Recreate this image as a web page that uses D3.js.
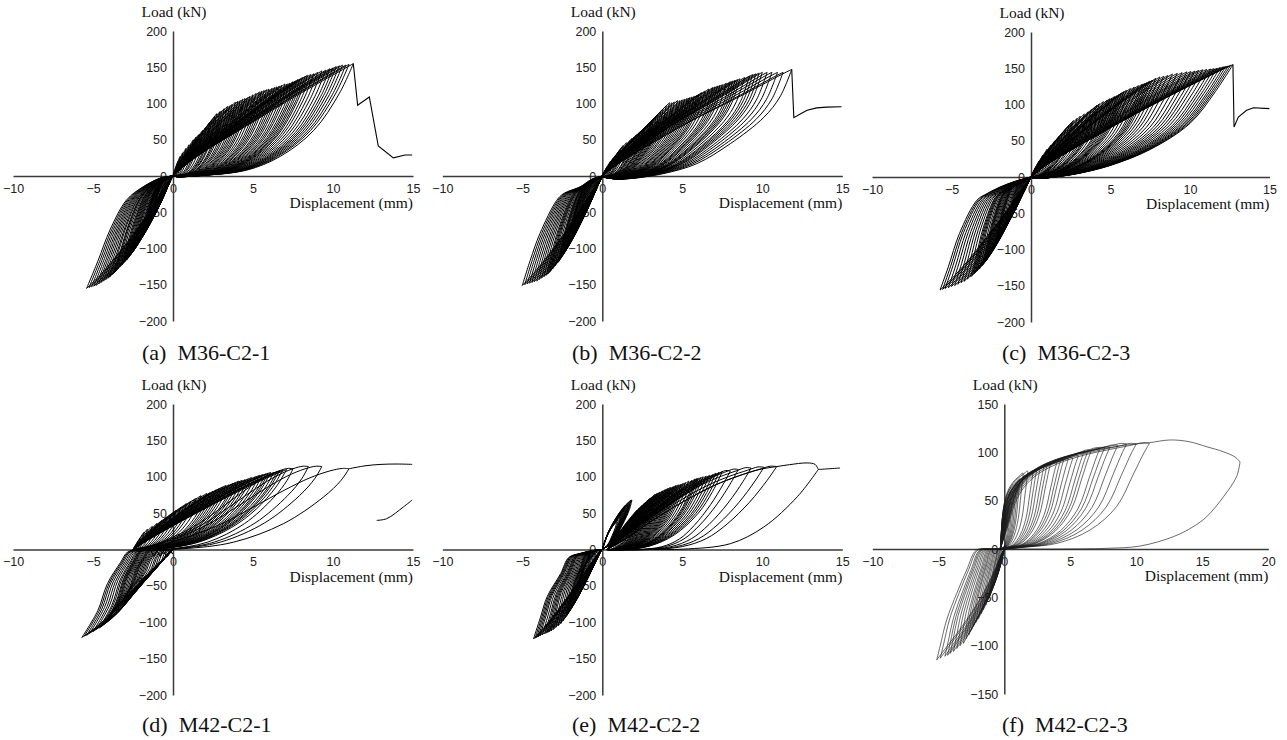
<!DOCTYPE html>
<html>
<head>
<meta charset="utf-8">
<script src="https://cdn.jsdelivr.net/npm/d3@7"></script>
<style>
  body { margin: 0; background: #fff; }
</style>
</head>
<body>
<div id="chart"></div>
<script>
// ---- data: displacement (mm), load (kN) ----
// each loop group = one traced representative loop (rising branch, return branch)
// plus the tip of every cycle of that kind

// (a) M36-C2-1
var posTipsA = [[0.3,20],[0.44,27],[0.6,32],[0.8,38],[1.0,43],[1.27,50],[1.45,54],[1.6,57],[1.85,63],[2.1,68],[2.3,74],[2.42,77],[2.6,82],[2.73,86],[2.94,89],[3.05,90],[3.2,93],[3.4,96],[3.55,97],[3.7,99],[3.9,102],[4.05,103],[4.2,104],[4.35,106],[4.5,107],[4.65,108],[4.8,110],[5.0,112],[5.2,114],[5.4,116],[5.55,117],[5.7,118],[5.85,119],[6.0,120],[6.2,121],[6.35,122],[6.5,123],[6.65,124],[6.8,125],[7.0,127],[7.15,127],[7.3,128],[7.5,130],[7.65,131],[7.8,133],[7.95,134],[8.1,136],[8.25,137],[8.4,139],[8.6,140],[8.8,141],[9.05,143],[9.3,145],[9.55,146],[9.8,148],[10.0,149],[10.2,151],[10.4,152],[10.6,153],[10.8,153],[11.0,154],[11.27,155]];
var posUpA = [[0,0],[0.5,10],[1.5,27],[3,48],[4.5,68],[6,88],[7.5,108],[9,127],[10.3,143],[11.27,155]];
var posDownA = [[11.27,155],[10.4,114],[8.8,63],[6.7,27],[4.6,8],[2,1],[0.4,-1],[0,0]];
var negTipsA = [[-0.19,-5.5],[-0.3,-8],[-0.42,-12],[-0.5,-14],[-0.58,-16],[-0.65,-18],[-0.72,-20],[-0.8,-22],[-0.9,-25],[-1.0,-28],[-1.05,-31],[-1.1,-34],[-1.15,-37],[-1.2,-40],[-1.26,-44],[-1.32,-48],[-1.38,-52],[-1.44,-56],[-1.52,-60],[-1.6,-64],[-1.7,-69],[-1.75,-71],[-1.8,-74],[-1.87,-78],[-1.93,-81],[-2.0,-85],[-2.06,-88],[-2.15,-91],[-2.25,-95],[-2.38,-99],[-2.5,-103],[-2.6,-107],[-2.7,-110],[-2.8,-113],[-2.9,-116],[-3.0,-118],[-3.1,-120],[-3.2,-123],[-3.3,-125],[-3.45,-128],[-3.6,-132],[-3.7,-134],[-3.78,-136],[-3.94,-139],[-4.05,-141],[-4.2,-143],[-4.35,-145],[-4.5,-147],[-4.65,-149],[-4.8,-151],[-4.95,-152],[-5.1,-153],[-5.25,-154],[-5.4,-155]];
var negOutA = [[0,0],[-0.8,-3],[-1.86,-14.7],[-2.9,-33],[-3.94,-74.5],[-4.67,-116],[-5.4,-155]];
var negInA = [[-5.4,-155],[-4.6,-138],[-3.6,-112],[-2.6,-84],[-1.7,-56],[-0.9,-28],[-0.3,-8],[0,0]];
var tailA = [[11.27,155],[11.54,97.5],[12.27,109],[12.83,41.4],[13.77,25],[14.5,29],[14.95,29]];

// (b) M36-C2-2
var posTipsB = [[0.3,13],[0.5,20],[0.65,24],[0.8,28],[1.0,33],[1.15,38],[1.3,42],[1.5,46],[1.73,49],[1.85,52],[2.0,54],[2.1,56],[2.2,58],[2.35,61],[2.5,63],[2.6,66],[2.7,68],[2.85,71],[3.0,74],[3.1,76],[3.2,78],[3.35,81],[3.5,84],[3.65,88],[3.8,92],[4.0,97],[4.2,101],[4.35,101],[4.5,102],[4.7,104],[4.85,104],[5.0,105],[5.15,106],[5.3,107],[5.45,108],[5.6,109],[5.75,110],[5.9,111],[6.05,113],[6.2,115],[6.4,117],[6.65,120],[6.9,122],[7.05,123],[7.2,124],[7.35,125],[7.5,126],[7.75,128],[8.0,130],[8.15,131],[8.3,132],[8.45,133],[8.6,134],[8.9,136],[9.2,138],[9.4,140],[9.6,141],[9.8,142],[10.0,143],[10.3,143],[10.6,143],[10.95,143],[11.3,143],[11.84,147]];
var posUpB = [[0,0],[0.5,9],[1.5,24],[3,44],[4.5,63],[6,81],[8,103],[10,126],[11.2,140],[11.84,147]];
var posDownB = [[11.84,147],[11.1,109],[10.1,81],[8,44.6],[5.9,17],[3.8,3.2],[1.5,-4],[0.5,-3],[0,0]];
var negTipsB = [[-0.2,-8],[-0.3,-12],[-0.4,-17],[-0.5,-22],[-0.58,-25],[-0.65,-28],[-0.72,-30],[-0.8,-33],[-0.9,-38],[-1.0,-42],[-1.08,-45],[-1.15,-47],[-1.22,-50],[-1.3,-52],[-1.38,-56],[-1.45,-59],[-1.52,-62],[-1.6,-66],[-1.68,-70],[-1.75,-73],[-1.82,-76],[-1.9,-80],[-2.0,-86],[-2.1,-92],[-2.15,-95],[-2.2,-98],[-2.25,-100],[-2.3,-103],[-2.4,-107],[-2.5,-110],[-2.58,-113],[-2.65,-115],[-2.72,-118],[-2.8,-120],[-2.95,-124],[-3.1,-128],[-3.2,-130],[-3.3,-133],[-3.4,-135],[-3.5,-137],[-3.65,-139],[-3.8,-141],[-3.95,-143],[-4.1,-145],[-4.25,-146],[-4.4,-147],[-4.55,-148],[-4.7,-149],[-4.85,-150],[-5.0,-151]];
var negOutB = [[0,0],[-0.7,-5],[-1.39,-15],[-2.4,-24],[-2.85,-33.6],[-3.9,-79.5],[-4.5,-116],[-5.0,-151]];
var negInB = [[-5.0,-151],[-4.2,-132],[-3.3,-107],[-2.4,-80],[-1.6,-54],[-0.9,-30],[-0.3,-10],[0,0]];
var tailB = [[11.84,147],[11.97,80.5],[12.4,86],[12.8,90.6],[13.4,94],[14,95],[14.95,95.5]];

// (c) M36-C2-3
var posTipsC = [[0.3,14],[0.5,22],[0.75,30],[1.0,38],[1.25,44],[1.5,50],[1.75,56],[2.0,62],[2.2,67],[2.4,72],[2.55,75],[2.67,78],[2.9,81],[3.1,84],[3.35,87],[3.6,90],[3.8,93],[4.0,96],[4.15,99],[4.3,101],[4.55,104],[4.8,106],[4.95,108],[5.1,109],[5.25,111],[5.4,112],[5.55,114],[5.7,116],[5.85,118],[6.0,119.5],[6.25,122],[6.5,124],[6.75,126],[7.0,128],[7.15,129],[7.3,130],[7.45,132],[7.6,133],[7.85,136],[8.1,138],[8.35,139],[8.6,140],[8.9,142],[9.2,143],[9.5,144],[9.8,145],[10.05,145.5],[10.3,146],[10.55,147],[10.8,148],[11.05,148.5],[11.3,149],[11.5,149.5],[11.7,150],[11.9,151],[12.1,152],[12.25,152.5],[12.4,153],[12.55,154],[12.7,155]];
var posUpC = [[0,0],[0.5,9],[1.5,24],[3,43],[5,68],[7,92],[9,115],[11,137],[12.1,149],[12.7,155]];
var posDownC = [[12.7,155],[11.6,118],[10,74],[7.5,38],[5,16],[3,5],[1.5,0],[0.5,-2],[0,0]];
var negTipsC = [[-0.2,-8],[-0.3,-12],[-0.38,-15],[-0.45,-18],[-0.52,-21],[-0.6,-25],[-0.68,-28],[-0.75,-31],[-0.82,-34],[-0.9,-38],[-0.98,-41],[-1.05,-44],[-1.12,-47],[-1.2,-50.6],[-1.28,-53],[-1.35,-55],[-1.42,-57],[-1.5,-60],[-1.62,-65],[-1.75,-70],[-1.88,-74],[-2.0,-78],[-2.08,-82],[-2.15,-85],[-2.22,-88],[-2.3,-92],[-2.42,-98],[-2.55,-104],[-2.68,-110],[-2.8,-115],[-2.88,-117],[-2.95,-119],[-3.02,-121],[-3.1,-123],[-3.25,-127],[-3.4,-130],[-3.5,-132],[-3.6,-134],[-3.7,-136],[-3.8,-138],[-4.0,-141],[-4.2,-144],[-4.4,-146],[-4.6,-148],[-4.8,-150],[-5.0,-151],[-5.2,-153],[-5.4,-154],[-5.56,-155],[-5.72,-156]];
var negOutC = [[0,0],[-1,-6],[-1.95,-13.8],[-2.78,-23],[-3.4,-32],[-4.5,-78],[-5.2,-124],[-5.72,-156]];
var negInC = [[-5.72,-156],[-4.8,-136],[-3.8,-111],[-2.8,-83],[-1.8,-55],[-1,-30],[-0.3,-9],[0,0]];
var tailC = [[12.7,155],[12.77,69],[13.04,82.8],[13.56,92],[14,95.6],[14.99,94.3]];

// (d) M42-C2-1
var posTipsD = [[-1.8,24],[-1.6,28],[-1.3,32],[-1.0,36],[-0.7,40],[-0.4,44.7],[-0.1,49],[0.2,54],[0.5,58],[0.83,63],[1.1,66],[1.4,70],[1.75,74],[2.1,77],[2.3,78],[2.5,80],[2.7,82],[2.9,84],[3.1,86],[3.3,88],[3.5,89],[3.75,91],[3.9,92],[4.1,94],[4.3,95],[4.5,96],[4.7,97],[4.9,99],[5.15,100],[5.4,102],[5.6,103],[5.8,104],[5.95,105],[6.1,106],[6.3,106],[6.5,107],[6.65,108],[6.85,109],[7.1,110]];
var posUpD = [[-2.5,0],[-1.5,14],[0,33],[2,57],[4,80],[5.5,96],[6.85,109]];
var posDownD = [[6.85,109],[6.2,85],[5,55],[3.5,30],[1.5,10],[-0.5,2],[-2.5,0]];
var lateTipsD = [[7.5,111],[8.46,114],[9.3,114],[11.0,111]];
var lateUpD = [[-2.5,0],[-1,5],[1,18],[3,35],[5,58],[7,82],[8.5,98],[9.8,108],[10.6,111.5],[11,111]];
var lateDownD = [[11,111],[10.5,95],[9.4,72],[6.9,35.5],[3.77,10],[0.64,1],[-1,0],[-2.5,0]];
var negTipsD = [[-0.4,-10.6],[-0.6,-14],[-0.8,-18],[-1.05,-23],[-1.27,-29],[-1.45,-32],[-1.6,-35],[-1.8,-38],[-2.0,-41],[-2.15,-44],[-2.3,-47],[-2.45,-51],[-2.6,-55],[-2.75,-59],[-2.9,-63],[-3.0,-66],[-3.1,-69],[-3.2,-72],[-3.3,-75],[-3.45,-79],[-3.6,-83],[-3.75,-87],[-3.9,-92],[-4.0,-95],[-4.1,-98],[-4.2,-100],[-4.3,-103],[-4.45,-105],[-4.6,-108],[-4.8,-110],[-5.0,-113],[-5.2,-115],[-5.4,-118],[-5.55,-119],[-5.7,-121]];
var negOutD = [[0,0],[-1.5,-1],[-2.8,-3],[-3.27,-17.5],[-4.1,-47],[-4.7,-84],[-5.7,-121]];
var negInD = [[-5.7,-121],[-4.6,-103],[-3.6,-80],[-2.6,-57],[-1.6,-35],[-0.8,-17],[-0.2,-3],[0,0]];
var tailD = [[11,111],[12,115],[13,117],[14,117.5],[14.95,117]];
var segD = [[12.73,40],[13.36,42.4],[14.4,58.5],[14.95,68]];
var zigD = [[-1.4,-1],[-1.2,-9],[-1.0,-2],[-0.8,-9],[-0.6,-2],[-0.4,-9],[-0.2,-2],[0,-6]];

// (e) M42-C2-2
var posTipsE = [[1.2,25],[1.4,30],[1.6,35],[1.8,40],[2.0,48],[2.15,54],[2.3,57],[2.4,59],[2.5,61],[2.6,63],[2.7,65],[2.8,67],[2.9,69],[3.0,71],[3.1,72],[3.2,74],[3.3,76],[3.4,77],[3.5,78],[3.6,79],[3.7,80],[3.8,81],[3.9,82],[4.0,83],[4.1,84],[4.2,85],[4.3,85.5],[4.4,86],[4.5,87],[4.6,88],[4.7,88.5],[4.8,89],[4.93,90],[5.06,91],[5.2,92],[5.4,94],[5.6,95],[5.8,97],[5.9,97.5],[6.0,98],[6.15,99],[6.3,100],[6.5,101],[6.7,102],[6.9,103],[7.1,105],[7.3,106],[7.5,107]];
var posUpE = [[0.3,0],[1.2,15],[2.5,35],[4,58],[5.5,80],[6.7,96],[7.5,107]];
var posDownE = [[7.5,107],[6.9,80],[6,50],[4.5,20],[3,5],[1.5,0],[0.3,0]];
var lateTipsE = [[8.0,108],[8.5,110],[9.3,112],[10.1,113],[10.9,114]];
var lateUpE = [[0.3,0],[1.5,15],[3,38],[5,65],[7,88],[8.5,101],[9.8,110],[10.5,114.5],[10.9,114]];
var lateDownE = [[10.9,114],[10.3,95],[9.2,65],[7.8,35],[6.5,15],[5,4],[3,0],[0.3,0]];
var bigUpE = [[0.3,0],[1.5,15],[3,38],[5,65],[7,88],[8.5,101],[9.8,110],[10.9,114],[11.7,116.6],[12.8,119],[13.3,117],[13.5,110]];
var bigDownE = [[13.5,110],[12.2,72.8],[10.1,31],[8,8],[5.06,0.5],[3,0],[0.3,0]];
var tailE = [[13.5,110],[14.2,111],[14.86,112]];
var spikeTipsE = [[0.9,38],[1.0,41],[1.1,44],[1.15,46],[1.2,48],[1.25,50],[1.3,51],[1.35,53],[1.4,54],[1.45,56],[1.5,57],[1.55,59],[1.6,61],[1.65,62],[1.7,64],[1.75,66],[1.8,68],[1.85,68]];
var spikeUpE = [[0,0],[0.4,25],[0.9,45],[1.4,60],[1.8,68]];
var spikeDownE = [[1.8,68],[1.65,55],[1.25,35],[0.6,10],[0,0]];
var negTipsE = [[-0.3,-5],[-0.5,-10],[-0.65,-15],[-0.8,-20],[-0.9,-23],[-1.0,-27],[-1.1,-30],[-1.2,-33],[-1.3,-39],[-1.4,-45],[-1.45,-48],[-1.5,-52],[-1.55,-56],[-1.6,-60],[-1.7,-67],[-1.8,-74.6],[-1.9,-79],[-2.0,-83],[-2.08,-86],[-2.15,-88],[-2.22,-91],[-2.3,-93],[-2.45,-98],[-2.6,-102],[-2.75,-105],[-2.9,-107],[-3.05,-110],[-3.2,-112],[-3.3,-113],[-3.4,-114],[-3.5,-115],[-3.6,-116],[-3.75,-117.5],[-3.9,-119],[-4.0,-120],[-4.1,-121],[-4.2,-122],[-4.3,-123]];
var negOutE = [[0,0],[-0.6,-1.5],[-1.4,-5.5],[-2.1,-11],[-2.6,-33],[-3.45,-65],[-3.86,-93],[-4.3,-123]];
var negInE = [[-4.3,-123],[-3.6,-106],[-2.8,-84],[-2.0,-60],[-1.3,-38],[-0.6,-16],[-0.2,-4],[0,0]];

// (f) M42-C2-3
var posTipsF = [[0.3,30],[0.45,40],[0.6,48],[0.75,55],[0.9,62],[1.05,67],[1.2,72],[1.44,78],[1.8,80],[2.2,80],[2.45,81],[2.7,82],[3.0,85],[3.25,87],[3.5,88],[3.97,89],[4.25,91],[4.5,92],[4.85,93],[5.2,94],[5.6,96],[6.0,99],[6.3,100],[6.6,102],[7.25,104],[7.6,104.5],[8.0,105],[8.6,107],[9.27,108.6],[10.0,108.6],[11.0,109.3]];
var posUpF = [[-0.3,0],[0.3,25],[0.8,47],[1.5,64],[2.5,77],[4,88],[6,97],[8,103],[9.5,107],[10.5,110],[11,109.3]];
var posDownF = [[11,109.3],[10.6,100],[9.8,78],[8.5,43.8],[6.5,19.7],[4,5.9],[1.4,1.7],[0,0],[-0.3,0]];
var bigUpF = [[-0.3,0],[0.3,30],[0.8,55],[1.4,72],[2.5,84],[4,93],[6,100],[8,105],[9.5,108],[11,110],[12.55,112.8],[14,111],[15.33,105.8],[16.6,100.6],[17.5,95],[17.86,90]];
var bigDownF = [[17.86,90],[17.6,75],[16.6,54],[15.33,33.4],[14.3,23],[12.8,12.7],[10.3,3.1],[7.8,0.7],[4,0],[-0.3,0]];
var negTipsF = [[-0.33,-14.8],[-0.45,-21],[-0.6,-28],[-0.72,-34],[-0.83,-39],[-1.0,-45],[-1.1,-49],[-1.2,-52],[-1.4,-58],[-1.59,-63],[-1.75,-67],[-1.95,-72],[-2.15,-76],[-2.35,-80],[-2.5,-84],[-2.7,-89],[-2.9,-93],[-3.1,-97.6],[-3.35,-100],[-3.6,-103],[-3.85,-106],[-4.1,-108],[-4.3,-110],[-4.5,-111],[-4.85,-113],[-5.12,-114.8]];
var negOutF = [[0,0],[-1,-0.5],[-2.1,-1],[-2.85,-21.7],[-3.6,-45.8],[-4.36,-73],[-4.87,-101],[-5.12,-114.8]];
var negInF = [[-5.12,-114.8],[-4.3,-100],[-3.4,-84],[-2.5,-66],[-1.6,-46],[-0.8,-24],[-0.2,-5],[0,0]];

var captions = ["(a)  M36-C2-1", "(b)  M36-C2-2", "(c)  M36-C2-3", "(d)  M42-C2-1", "(e)  M42-C2-2", "(f)  M42-C2-3"];
var yTicksA = [-200, -150, -100, -50, 0, 50, 100, 150, 200];
var yTicksF = [-150, -100, -50, 0, 50, 100, 150];
var xTicksA = [-10, -5, 0, 5, 10, 15];
var xTicksF = [-10, -5, 0, 5, 10, 15, 20];

// ---- layout ----
var layout = [
  { xd: [-10, 15], xr: [13, 413],      yd: [-200, 200], yr: [321, 31],  xt: xTicksA, yt: yTicksA, cx: 142,  cy: 360 },
  { xd: [-10, 15], xr: [442.3, 842.3], yd: [-200, 200], yr: [321, 31],  xt: xTicksA, yt: yTicksA, cx: 572,  cy: 360 },
  { xd: [-10, 15], xr: [872, 1269.5],  yd: [-200, 200], yr: [322, 32],  xt: xTicksA, yt: yTicksA, cx: 1002, cy: 360 },
  { xd: [-10, 15], xr: [13, 413],      yd: [-200, 200], yr: [695, 404], xt: xTicksA, yt: yTicksA, cx: 142,  cy: 732 },
  { xd: [-10, 15], xr: [442.3, 842.3], yd: [-200, 200], yr: [695, 404], xt: xTicksA, yt: yTicksA, cx: 572,  cy: 732 },
  { xd: [-10, 20], xr: [872.3, 1268.3],yd: [-150, 150], yr: [694, 404], xt: xTicksF, yt: yTicksF, cx: 1002, cy: 732 }
];

var panels = [
  { groups: [{ up: posUpA, down: posDownA, pivot: 0, tips: posTipsA }, { up: negOutA, down: negInA, pivot: 0, tips: negTipsA }],
    extra: [{ pts: tailA, linear: true }] },
  { groups: [{ up: posUpB, down: posDownB, pivot: 0, tips: posTipsB }, { up: negOutB, down: negInB, pivot: 0, tips: negTipsB }],
    extra: [{ pts: tailB, linear: true }] },
  { groups: [{ up: posUpC, down: posDownC, pivot: 0, tips: posTipsC }, { up: negOutC, down: negInC, pivot: 0, tips: negTipsC }],
    extra: [{ pts: tailC, linear: true }] },
  { groups: [{ up: posUpD, down: posDownD, pivot: -2.5, tips: posTipsD }, { up: lateUpD, down: lateDownD, pivot: -2.5, tips: lateTipsD },
             { up: negOutD, down: negInD, pivot: 0, tips: negTipsD }],
    extra: [{ pts: tailD }, { pts: segD }, { pts: zigD, linear: true }] },
  { groups: [{ up: posUpE, down: posDownE, pivot: 0.3, tips: posTipsE }, { up: lateUpE, down: lateDownE, pivot: 0.3, tips: lateTipsE },
             { up: spikeUpE, down: spikeDownE, pivot: 0, tips: spikeTipsE }, { up: negOutE, down: negInE, pivot: 0, tips: negTipsE }],
    extra: [{ pts: bigUpE }, { pts: bigDownE }, { pts: tailE }] },
  { groups: [{ up: posUpF, down: posDownF, pivot: -0.3, tips: posTipsF }, { up: negOutF, down: negInF, pivot: 0, tips: negTipsF }],
    extra: [{ pts: bigUpF }, { pts: bigDownF }], thin: true }
];

var serif = '"Liberation Serif", "Times New Roman", serif';
var sans = '"Liberation Sans", Arial, sans-serif';

var svg = d3.select("#chart").append("svg")
  .attr("width", 1287)
  .attr("height", 740);

// stretch the traced loop of a group onto every recorded tip
function cycles(grp) {
  var T = grp.up[grp.up.length - 1], p = grp.pivot;
  return grp.tips.map(function(t) {
    var sx = (t[0] - p) / (T[0] - p), sy = t[1] / T[1];
    var f = function(d) { return [p + (d[0] - p) * sx, d[1] * sy]; };
    return [grp.up.map(f), grp.down.map(f)];
  });
}

layout.forEach(function(L, i) {
  var P = panels[i];
  var x = d3.scaleLinear().domain(L.xd).range(L.xr);
  var y = d3.scaleLinear().domain(L.yd).range(L.yr);
  var g = svg.append("g");

  var xAxis = g.append("g")
    .attr("transform", "translate(0," + y(0) + ")")
    .call(d3.axisBottom(x).tickValues(L.xt).tickSize(0).tickPadding(8).tickFormat(d3.format("d")));
  var yAxis = g.append("g")
    .attr("transform", "translate(" + x(0) + ",0)")
    .call(d3.axisLeft(y).tickValues(L.yt).tickSize(0).tickPadding(6).tickFormat(d3.format("d")));
  [xAxis, yAxis].forEach(function(a) {
    a.attr("color", "#222").attr("font-family", sans).attr("font-size", 12.5);
    a.select(".domain").attr("stroke", "#3a3a3a").attr("stroke-width", 1.5);
  });

  g.append("text")
    .attr("x", x(0) + 1).attr("y", L.yr[1] - 14)
    .attr("text-anchor", "middle")
    .style("font-family", serif).style("font-size", "15.5px").attr("fill", "#111")
    .text("Load (kN)");
  g.append("text")
    .attr("x", x(L.xd[1])).attr("y", y(0) + 32)
    .attr("text-anchor", "end")
    .style("font-family", serif).style("font-size", "15.5px").attr("fill", "#111")
    .text("Displacement (mm)");
  g.append("text")
    .attr("x", L.cx).attr("y", L.cy)
    .style("font-family", serif).style("font-size", "22px").style("white-space", "pre").attr("fill", "#111")
    .text(captions[i]);

  var smooth = d3.line().x(function(d) { return x(d[0]); }).y(function(d) { return y(d[1]); })
    .curve(d3.curveCatmullRom.alpha(0.5));
  var straight = d3.line().x(function(d) { return x(d[0]); }).y(function(d) { return y(d[1]); });

  var stroke = P.thin ? "#1a1a1a" : "#000";
  var sw = P.thin ? 0.65 : 1.0;

  P.groups.forEach(function(grp) {
    g.append("g").selectAll("path")
      .data(cycles(grp))
      .enter().append("path")
      .attr("d", function(c) { return smooth(c[0]) + smooth(c[1]); })
      .attr("fill", "none")
      .attr("stroke", stroke)
      .attr("stroke-width", sw);
  });

  P.extra.forEach(function(e) {
    g.append("path")
      .attr("d", e.linear ? straight(e.pts) : smooth(e.pts))
      .attr("fill", "none")
      .attr("stroke", stroke)
      .attr("stroke-width", e.linear ? 1.1 : sw);
  });
});
</script>
</body>
</html>
